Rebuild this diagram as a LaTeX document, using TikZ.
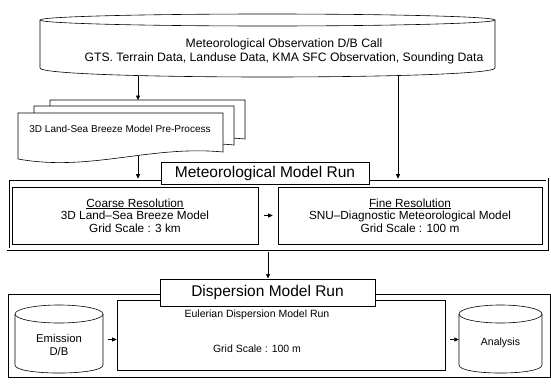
\documentclass[tikz,border=0pt]{standalone}
\usepackage{fontspec}
\setmainfont{Liberation Sans}
\usetikzlibrary{arrows.meta}
\tikzset{
  ln/.style={line width=0.6pt},
  box/.style={draw, ln, fill=white, inner sep=0pt, align=center},
  ghost/.style={inner sep=0pt},
  sheet/.style={draw, ln, fill=white},
  titlebox/.style={draw, line width=1pt, fill=white, inner sep=0pt, font=\fontsize{15.5}{18}\selectfont},
  arr/.style={ln, -{Triangle[length=4.5pt,width=4pt]}},
  midtxt/.style={font=\fontsize{11.8}{12.6}\selectfont, align=center}
}
\begin{document}
\begin{tikzpicture}[x=1pt,y=-1pt]
\useasboundingbox (0,0) rectangle (551,383);
\fill[white] (0,0) rectangle (551,383);

% top database cylinder
\draw[ln] (267.5,20) ellipse [x radius=227.5, y radius=6];
\draw[ln] (40,20) -- (40,68) .. controls (40,80) and (495,80) .. (495,68) -- (495,20);
\node[ghost, minimum width=455pt, minimum height=64pt] (obs) at (267.5,45) {};
\node[font=\fontsize{12.2}{13.5}\selectfont, align=center] (obstext) at (284,51.5)
  {Meteorological Observation D/B Call\\GTS. Terrain Data, Landuse Data, KMA SFC Observation, Sounding Data};
\coordinate (obsL) at (138,75.5);
\coordinate (obsR) at (398,75.4);

% pre-process stacked sheets
\draw[sheet] (50,146) -- (50,100) -- (245,100) -- (245,139) .. controls (175,132) and (118,159) .. cycle;
\draw[sheet] (34,152) -- (34,106) -- (234,106) -- (234,145) .. controls (164,138) and (104,165) .. cycle;
\draw[sheet] (18,159) -- (18,113) -- (223,113) -- (223,152) .. controls (150,145) and (90,172) .. cycle;
\node[font=\fontsize{10}{12}\selectfont] (pre) at (120,129) {3D Land-Sea Breeze Model Pre-Process};
\coordinate (preTop) at (138,100);
\coordinate (preBot) at (138,155.5);

% meteorological model run
\node[draw, ln, double, double distance=1.8pt, inner sep=0pt, minimum width=539pt, minimum height=70pt] (metframe) at (277.5,214) {};
\node[box, midtxt, minimum width=246pt, minimum height=57pt] (coarse) at (135,215.5)
  {\underline{Coarse Resolution}\\3D Land--Sea Breeze Model\\Grid Scale : 3 km};
\node[box, midtxt, minimum width=264pt, minimum height=57pt] (fine) at (410,215.5)
  {\underline{Fine Resolution}\\SNU--Diagnostic Meteorological Model\\Grid Scale : 100 m};
\node[titlebox, minimum width=208pt, minimum height=22pt] (metrun) at (265,173.5) {Meteorological Model Run};

\draw[arr] (obsL) -- (preTop);
\draw[arr] (preBot) -- (preBot |- metframe.north);
\draw[arr] (obsR) -- (obsR |- metframe.north);
\draw[arr] ([xshift=6pt]coarse.east) -- ([xshift=-5pt]fine.west);

% dispersion model run
\node[draw, line width=0.9pt, inner sep=0pt, minimum width=542pt, minimum height=83pt] (dispframe) at (279,335.5) {};
\node[box, minimum width=328pt, minimum height=70pt] (eul) at (281,335) {};
\node[font=\fontsize{10.5}{12}\selectfont] (eultxt1) at (257,315) {Eulerian Dispersion Model Run};
\node[font=\fontsize{10.5}{12}\selectfont] (eultxt2) at (257,349) {Grid Scale : 100 m};
\node[titlebox, minimum width=215pt, minimum height=27pt] (disprun) at (267.5,292.5) {Dispersion Model Run};

% emission cylinder
\draw[ln] (59,314) ellipse [x radius=44, y radius=9];
\draw[ln] (15,314) -- (15,365) .. controls (15,375.7) and (103,375.7) .. (103,365) -- (103,314);
\node[ghost, minimum width=88pt, minimum height=69pt] (emis) at (59,339.5) {};
\node[font=\fontsize{11.3}{13}\selectfont, align=center] (emistxt) at (59,344.5) {Emission\\D/B};

% analysis cylinder
\draw[ln] (500.5,314) ellipse [x radius=41.5, y radius=9];
\draw[ln] (459,314) -- (459,365) .. controls (459,375.7) and (542,375.7) .. (542,365) -- (542,314);
\node[ghost, minimum width=83pt, minimum height=69pt] (ana) at (500.5,339.5) {};
\node[font=\fontsize{10.5}{12}\selectfont] (anatxt) at (500.5,343) {Analysis};

\coordinate (mid) at (268,252);
\draw[arr] (mid) -- (mid |- disprun.north);
\draw[arr] ([xshift=5pt]emis.east) -- (emis.east -| eul.west);
\draw[arr] ([xshift=5pt]eul.east |- ana.west) -- (ana.west);
\end{tikzpicture}
\end{document}
